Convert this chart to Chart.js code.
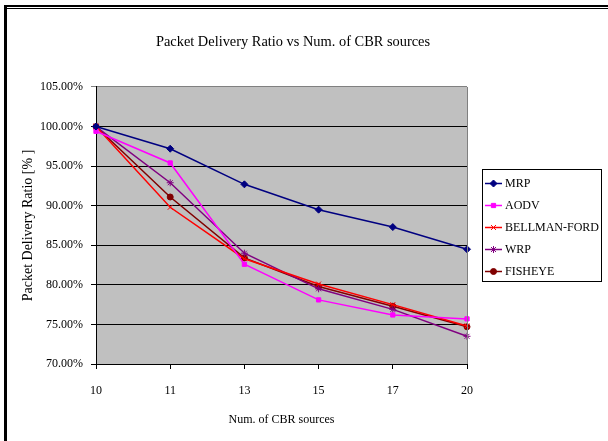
<!DOCTYPE html>
<html>
<head>
<meta charset="utf-8">
<script src="https://cdn.jsdelivr.net/npm/chart.js@4/dist/chart.umd.min.js"></script>
<style>
  html, body { margin: 0; padding: 0; background: #fff; }
  #wrap { width: 608px; height: 441px; }
</style>
</head>
<body>
<div id="wrap"><canvas id="pdr" width="608" height="441"></canvas></div>
<script>
// data
const cbrSources = ['10', '11', '13', '15', '17', '20'];
const seriesNames = ['MRP', 'AODV', 'BELLMAN-FORD', 'WRP', 'FISHEYE'];
const mrp      = [100.0, 97.2, 92.7, 89.5, 87.3, 84.5];
const aodv     = [99.4, 95.4, 82.6, 78.1, 76.2, 75.7];
const bellman  = [100.0, 89.8, 83.3, 80.1, 77.5, 74.8];
const wrp      = [100.0, 92.9, 84.0, 79.5, 76.9, 73.5];
const fisheye  = [100.0, 91.1, 83.4, 79.8, 77.3, 74.7];
const yMin = 70, yMax = 105, yStep = 5;

const seriesColors = ['#000080', '#FF00FF', '#FF0000', '#800080', '#800000'];
const seriesMarkers = ['rectRot', 'rect', 'crossRot', 'star', 'circle'];
const markerRadius = [3.5, 3, 3.5, 3.5, 3];
const seriesValues = [mrp, aodv, bellman, wrp, fisheye];

const serif = "'Liberation Serif', 'Times New Roman', serif";

// grey plot area + outer frame
const plotBg = {
    id: 'plotBg',
    beforeDraw(chart) {
        const { ctx, chartArea: a } = chart;
        ctx.save();
        ctx.fillStyle = '#C0C0C0';
        ctx.fillRect(a.left, a.top, a.right - a.left, a.bottom - a.top);
        ctx.restore();
    },
    afterDraw(chart) {
        const { ctx, chartArea: a } = chart;
        ctx.save();
        ctx.strokeStyle = '#808080';
        ctx.lineWidth = 1;
        ctx.beginPath();
        ctx.moveTo(Math.round(a.right) + 0.5, a.top);
        ctx.lineTo(Math.round(a.right) + 0.5, a.bottom);
        ctx.stroke();
        // frame edges of the picture
        ctx.fillStyle = '#000';
        ctx.fillRect(4, 5, 604, 2);
        ctx.fillRect(7, 8, 601, 1);
        ctx.fillRect(4, 5, 3, 436);
        ctx.restore();
    }
};

// boxed legend with line + marker, like the spreadsheet one
const boxLegend = {
    id: 'boxLegend',
    afterDraw(chart) {
        const { ctx } = chart;
        const bx = 482, by = 169, bw = 119, bh = 112;
        ctx.save();
        ctx.fillStyle = '#fff';
        ctx.fillRect(bx, by, bw, bh);
        ctx.strokeStyle = '#000';
        ctx.lineWidth = 1;
        ctx.strokeRect(bx + 0.5, by + 0.5, bw, bh);
        ctx.font = '12px ' + serif;
        ctx.textBaseline = 'middle';
        ctx.textAlign = 'left';
        chart.data.datasets.forEach((ds, i) => {
            const y = by + 14.5 + i * 22;
            ctx.strokeStyle = ds.borderColor;
            ctx.lineWidth = 1.5;
            ctx.beginPath();
            ctx.moveTo(485, y);
            ctx.lineTo(502, y);
            ctx.stroke();
            ctx.fillStyle = ds.pointBackgroundColor;
            ctx.strokeStyle = ds.pointBorderColor;
            ctx.lineWidth = 1;
            if (Chart.helpers && Chart.helpers.drawPoint) {
                Chart.helpers.drawPoint(ctx, {
                    pointStyle: ds.pointStyle, radius: ds.pointRadius,
                    rotation: 0, borderWidth: 1
                }, 493.5, y);
            }
            ctx.fillStyle = '#000';
            ctx.fillText(ds.label, 505, y + 0.5);
        });
        ctx.restore();
    }
};

const datasets = seriesNames.map((name, i) => ({
    label: name,
    data: seriesValues[i],
    borderColor: seriesColors[i],
    backgroundColor: seriesColors[i],
    pointBackgroundColor: seriesColors[i],
    pointBorderColor: seriesColors[i],
    pointStyle: seriesMarkers[i],
    pointRadius: markerRadius[i],
    pointBorderWidth: 1,
    borderWidth: 1.5,
    tension: 0,
    fill: false
}));

new Chart(document.getElementById('pdr'), {
    type: 'line',
    data: { labels: cbrSources, datasets: datasets },
    options: {
        responsive: false,
        animation: false,
        // right padding + empty right axis keep room for the legend and centre the title
        layout: { padding: { left: 0, right: 22, top: 0, bottom: 0 } },
        plugins: {
            legend: { display: false },
            tooltip: { enabled: false },
            title: {
                display: true,
                text: 'Packet Delivery Ratio vs Num. of CBR sources',
                color: '#000',
                font: { family: serif, size: 14.4, weight: 'normal' },
                padding: { top: 33.4, bottom: 36.3 }
            }
        },
        scales: {
            x: {
                type: 'category',
                offset: false,
                afterFit: (s) => { s.height = 77; },
                grid: {
                    drawOnChartArea: false,
                    drawTicks: true,
                    tickLength: 5,
                    color: '#000'
                },
                border: { color: '#000', width: 1 },
                ticks: {
                    color: '#000',
                    padding: 15,
                    maxRotation: 0,
                    font: { family: serif, size: 12 }
                },
                title: {
                    display: true,
                    text: 'Num. of CBR sources',
                    color: '#000',
                    font: { family: serif, size: 12 },
                    padding: { top: 0, bottom: 14 }
                }
            },
            y: {
                min: yMin,
                max: yMax,
                afterFit: (s) => { s.width = 96; },
                grid: {
                    tickLength: 5,
                    color: (c) => (c.tick && c.tick.value === yMax) ? '#808080' : '#000'
                },
                border: { color: '#000', width: 1 },
                ticks: {
                    stepSize: yStep,
                    color: '#000',
                    padding: 8,
                    font: { family: serif, size: 12 },
                    callback: (v) => v.toFixed(2) + '%'
                },
                title: {
                    display: true,
                    text: 'Packet Delivery Ratio [% ]',
                    color: '#000',
                    font: { family: serif, size: 14 },
                    padding: { top: 20, bottom: 0 }
                }
            },
            legendRoom: {
                position: 'right',
                min: yMin,
                max: yMax,
                afterFit: (s) => { s.width = 119; },
                grid: { display: false, drawOnChartArea: false },
                border: { display: false },
                ticks: { display: false }
            }
        }
    },
    plugins: [plotBg, boxLegend]
});
</script>
</body>
</html>
